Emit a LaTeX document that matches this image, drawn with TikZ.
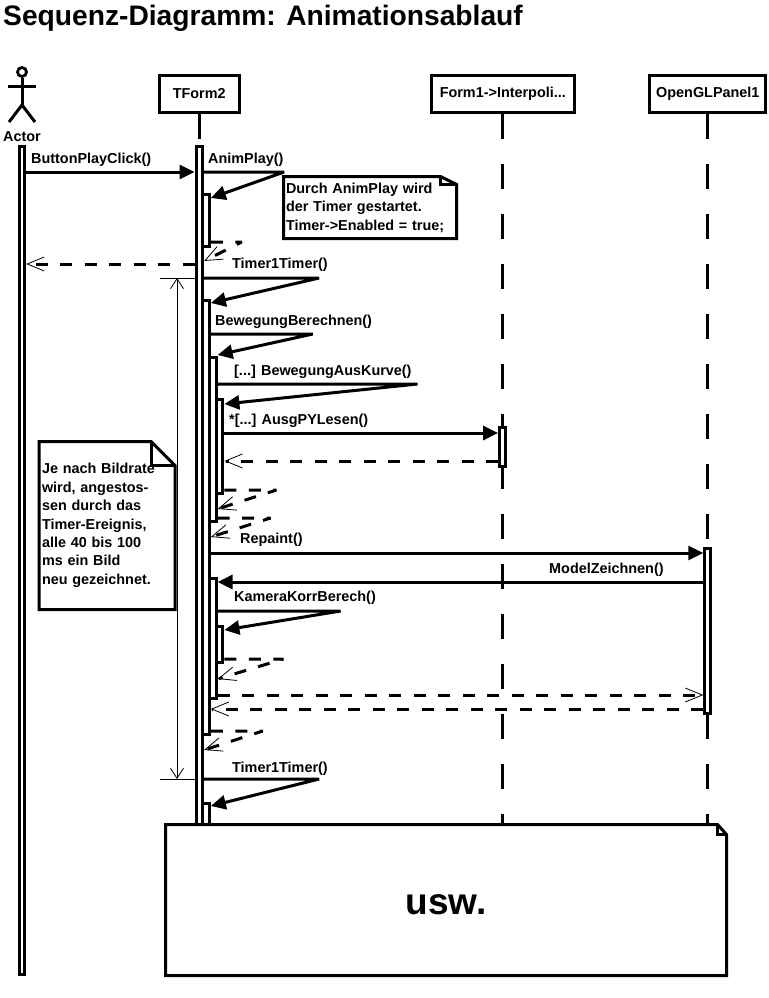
\documentclass[tikz,border=0pt]{standalone}
\usepackage{fontspec}
\setmainfont{Liberation Sans}
\usetikzlibrary{arrows.meta,calc}
\tikzset{
    seq diagram/.style = {x=1pt, y=-1pt, >={Triangle[length=15pt,width=14pt]},
                          font=\fontsize{14.4}{18.4}\bfseries\selectfont},
    head box/.style    = {draw, line width=3pt, fill=white, inner sep=0pt,
                          minimum height=37pt},
    lifeline/.style    = {line width=3pt, dash pattern=on 25pt off 25pt},
    actbar/.style      = {draw, line width=3pt, fill=white, inner sep=0pt,
                          anchor=north, minimum width=6.6pt},
    thin bar/.style    = {actbar, minimum width=5.4pt},
    msg/.style         = {->, line width=3pt, line join=bevel},
    ret/.style         = {-{Straight Barb[length=17pt,width=14pt,line width=.8pt]},
                          line width=3pt, line join=bevel,
                          dash pattern=on 12pt off 12.5pt},
    msg label/.style   = {anchor=base west, inner sep=0pt},
    note box/.style    = {anchor=north west, fill=white, outer sep=0pt, align=left,
                          inner ysep=0pt},
    note line/.style   = {line width=3pt},
    span line/.style   = {line width=1pt},
    span tip/.style    = {{Straight Barb[length=10pt,width=13pt,line width=.8pt]}-{Straight Barb[length=10pt,width=13pt,line width=.8pt]}}
}
\begin{document}
\begin{tikzpicture}[seq diagram]
\useasboundingbox (0,0) rectangle (768,998);

\node[anchor=base west, inner sep=0pt, font=\fontsize{28.2}{32}\bfseries\selectfont] (title) at (3,26) {Sequenz-Diagramm: Animationsablauf};

% ================= Rows of the messages =================
\foreach \rowname/\rowy in {play/172, animtip/198, animret/242, animback/261,
    playret/264, timer/278, calctip/303, calc/334, movetip/355, curve/384,
    curvetip/404, lesen/433, lesenret/461, curveret/490, curveback/509,
    moveret/518, moveback/537, repaint/553, model/582, camera/611, cameratip/630,
    cameraret/659, cameraback/679, repaintret/695, modelret/709, calcret/731,
    calcback/750, timertwo/779, timertwotip/806, bottom/840}
    \coordinate (\rowname) at (0,\rowy);
\coordinate (spanx) at (177,0);

% ================= Actor =================
\node[circle, draw, line width=2.8pt, inner sep=0pt, minimum size=9pt] (head) at (22,72) {};
\coordinate (hip) at (22,105);
\coordinate (armleft) at (8,86);
\coordinate (armright) at (36,86);
\coordinate (footleft) at (9,122);
\coordinate (footright) at (35,122);
\draw[line width=3pt] (head.south) -- (hip);
\draw[line width=3pt] (armleft) -- (armright);
\draw[line width=3pt] (footleft) -- (hip) -- (footright);
\node[anchor=base, inner sep=0pt] (actor) at (22,141) {Actor};

% ================= Objects and lifelines =================
\node[head box, minimum width=80pt] (tform) at (199.2,93.7) {TForm2};
\node[head box, minimum width=143pt] (form1) at (502.8,93.7) {Form1->Interpoli...};
\node[head box, minimum width=116pt] (panel) at (707.8,93.7) {OpenGLPanel1};

\draw[lifeline] (tform.south) -- (tform |- bottom);
\draw[lifeline] (form1.south) -- (form1 |- bottom);
\draw[lifeline] (panel.south) -- (panel |- bottom);

% ================= Activation bars =================
\node[thin bar, minimum height=828pt] (actorbar) at (22,145) {};
\node[actbar, minimum height=692pt] (tformbar) at (199.3,145) {};
\node[actbar, minimum height=52pt] (animbar) at (206,193) {};
\node[actbar, minimum height=434pt] (calcbar) at (206,299) {};
\node[actbar, minimum height=164pt] (movebar) at (212.8,356) {};
\node[actbar, minimum height=94pt] (curvebar) at (219.6,398) {};
\node[actbar, minimum height=120pt] (repaintbar) at (212.8,577) {};
\node[actbar, minimum height=36pt] (camerabar) at (219.6,625) {};
\node[actbar, minimum height=38pt] (nextbar) at (206,802) {};
\node[thin bar, minimum height=39pt] (lesenbar) at (502.3,426) {};
\node[thin bar, minimum height=165pt] (panelbar) at (707.5,547) {};

% ================= Messages =================
\draw[msg] (actorbar.east |- play) -- (tformbar.west |- play);
\draw[ret] (tformbar.west |- playret) -- (actorbar.east |- playret);

\draw[msg] (tformbar.east |- play) -- ++(80,0) -- (animbar.east |- animtip);
\draw[ret] (animbar.east |- animret) -- ++(31,0) -- (tformbar.east |- animback);

\draw[msg] (tformbar.east |- timer) -- ++(115,0) -- (calcbar.east |- calctip);
\draw[msg] (calcbar.east |- calc) -- ++(102,0) -- (movebar.east |- movetip);
\draw[msg] (movebar.east |- curve) -- ++(200,0) -- (curvebar.east |- curvetip);

\draw[msg] (curvebar.east |- lesen) -- (lesenbar.west |- lesen);
\draw[ret] (lesenbar.west |- lesenret) -- (curvebar.east |- lesenret);
\draw[ret] (curvebar.east |- curveret) -- ++(52,0) -- (movebar.east |- curveback);
\draw[ret] (movebar.east |- moveret) -- ++(53,0) -- (calcbar.east |- moveback);

\draw[msg] (calcbar.east |- repaint) -- (panelbar.west |- repaint);
\draw[msg] (panelbar.west |- model) -- (repaintbar.east |- model);
\draw[msg] (repaintbar.east |- camera) -- ++(123,0) -- (camerabar.east |- cameratip);
\draw[ret] (camerabar.east |- cameraret) -- ++(59,0) -- (repaintbar.east |- cameraback);
\draw[ret] (repaintbar.east |- repaintret) -- (panelbar.west |- repaintret);
\draw[ret] (panelbar.west |- modelret) -- (calcbar.east |- modelret);
\draw[ret] (calcbar.east |- calcret) -- ++(52,0) -- (tformbar.east |- calcback);

\draw[msg] (tformbar.east |- timertwo) -- ++(115,0) -- (nextbar.east |- timertwotip);

% ================= Message labels =================
\node[msg label] (lplay) at (31,163) {ButtonPlayClick()};
\node[msg label] (lanim) at (208,163) {AnimPlay()};
\node[msg label] (ltimer) at (232,268) {Timer1Timer()};
\node[msg label] (lcalc) at (215,325) {BewegungBerechnen()};
\node[msg label] (lcurve) at (234,375) {[...] BewegungAusKurve()};
\node[msg label] (llesen) at (229,424) {*[...] AusgPYLesen()};
\node[msg label] (lrepaint) at (240,543) {Repaint()};
\node[msg label] (lmodel) at (549,573) {ModelZeichnen()};
\node[msg label] (lcamera) at (234,601) {KameraKorrBerech()};
\node[msg label] (ltimertwo) at (232,772) {Timer1Timer()};

% ================= Notes =================
\node[note box, minimum height=62pt, text width=168pt, inner xsep=2.5pt] (animnote) at (283.5,176.5)
    {Durch AnimPlay wird\\der Timer gestartet.\\Timer->Enabled = true;};
\node[note box, minimum height=168pt, text width=130pt, inner xsep=3pt] (framenote) at (39,441.5)
    {Je nach Bildrate\\wird, angestos-\\sen durch das\\Timer-Ereignis,\\alle 40 bis 100\\ms ein Bild\\neu gezeichnet.};
\node[note box, minimum height=151pt, minimum width=561pt, align=none, text height=29pt, text depth=0pt,
    font=\fontsize{37}{40}\bfseries\selectfont] (uswnote) at (165.5,824.5) {usw.};

\foreach \note/\foldw/\foldh in {animnote/16/8, framenote/24/24, uswnote/9/10} {
    \draw[note line] (\note.north west) -- ($(\note.north east)+(-\foldw,0)$)
        -- ($(\note.north east)+(0,\foldh)$) -- (\note.south east) -- (\note.south west) -- cycle;
    \draw[note line] ($(\note.north east)+(-\foldw,0)$) -- ++(0,\foldh) -- ($(\note.north east)+(0,\foldh)$);
}

% ================= Time span =================
\draw[span line] (tformbar.west |- timer) -- ++(-35,0);
\draw[span line] (tformbar.west |- timertwo) -- ++(-35,0);
\draw[span line, span tip] (spanx |- timer) -- (spanx |- timertwo);

\end{tikzpicture}
\end{document}
